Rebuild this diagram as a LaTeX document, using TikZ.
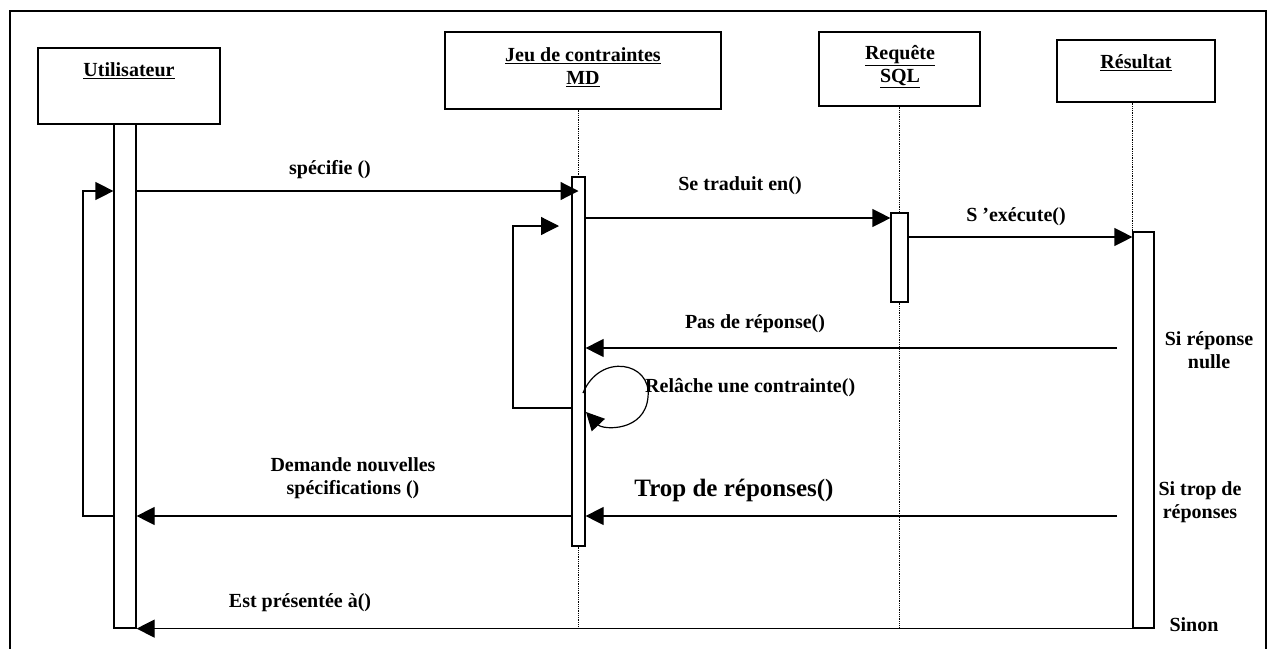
\documentclass[tikz,border=0pt]{standalone}
\usepackage{fontspec}
\setmainfont{Liberation Serif}
\usetikzlibrary{arrows.meta,calc}

\begin{document}
\begin{tikzpicture}[x=1pt, y=-1pt, font=\bfseries\fontsize{20}{23}\selectfont,
    objbox/.style={draw, line width=1.2pt, inner sep=0pt},
    actbar/.style={draw, fill=white, line width=1.2pt, inner sep=0pt, minimum width=#1},
    life/.style={densely dotted, line width=0.8pt},
    msg/.style={line width=1.2pt, -{Triangle[length=18pt,width=18pt]}},
    lbl/.style={inner sep=0pt, align=center}]
  \useasboundingbox (0,0) rectangle (1268,648);
  %frame
  \draw[line width=2.5pt] (10,660) -- (10,11) -- (1266,11) -- (1266,660);

  %objects
  \node[objbox, minimum width=182pt, minimum height=76pt] (usr) at (129,86) {};
  \node[objbox, minimum width=276pt, minimum height=77pt] (jeu) at (583,70.5) {};
  \node[objbox, minimum width=161pt, minimum height=74pt] (req) at (899.5,69) {};
  \node[objbox, minimum width=158pt, minimum height=62pt] (res) at (1136,71) {};
  \node[lbl] (usrT) at (129,71) {\underline{Utilisateur}};
  \node[lbl] (jeuT) at (583,67) {\underline{Jeu de contraintes}\\\underline{MD}};
  \node[lbl] (reqT) at (900,67) {\underline{Requête}\\\underline{SQL}};
  \node[lbl] (resT) at (1136,63) {\underline{Résultat}};

  %activation bars
  \node[actbar=22pt, minimum height=504pt] (ubar) at (125,376) {};
  \node[actbar=13pt, minimum height=369pt] (jbar) at (578.5,361.5) {};
  \node[actbar=17pt, minimum height=89pt] (rbar) at (899.5,257.5) {};
  \node[actbar=21pt, minimum height=396pt] (sbar) at (1143.5,430) {};

  %message levels
  \coordinate (ySpec) at (0,191);
  \coordinate (yTrad) at (0,218);
  \coordinate (yExec) at (0,237);
  \coordinate (yEnd) at (0,628);
  \coordinate (pasS) at (1117,348);
  \coordinate (tropS) at (1117,516);
  \coordinate (uloop) at (83,191);
  \coordinate (jloop) at (513,226);
  \coordinate (jtip) at (559,226);
  \coordinate (jback) at (0,408);
  \coordinate (cIn) at (583,393);
  \coordinate (cOut) at (586,412);

  %lifelines
  \draw[life] (jbar.north |- jeu.south) -- (jbar.north);
  \draw[life] (jbar.south) -- (jbar.south |- yEnd);
  \draw[life] (rbar.north |- req.south) -- (rbar.north);
  \draw[life] (rbar.south) -- (rbar.south |- yEnd);
  \draw[life] (sbar.north west |- res.south) -- (sbar.north west);

  %messages
  \draw[msg] (ubar.east |- ySpec) -- (jbar.center |- ySpec);
  \draw[msg] (jbar.east |- yTrad) -- (rbar.west |- yTrad);
  \draw[msg] (rbar.east |- yExec) -- (sbar.west |- yExec);
  \draw[msg] (pasS) -- (jbar.east |- pasS);
  \draw[msg] (tropS) -- (jbar.east |- tropS);
  \draw[msg] (jbar.west |- tropS) -- (ubar.east |- tropS);
  \draw[msg] (sbar.south east) -- (ubar.east |- sbar.south);
  \draw[msg] (ubar.west |- tropS) -| (uloop) -- (ubar.west |- ySpec);
  \draw[msg] (jbar.west |- jback) -| (jloop) -- (jtip);
  \draw[msg] (cIn) .. controls (600,352) and (652,362) .. (648,397)
                   .. controls (645,432) and (603,430) .. (cOut);

  %labels
  \node[lbl] (lSpec) at (330,170) {spécifie ()};
  \node[lbl] (lTrad) at (740,186) {Se traduit en()};
  \node[lbl] (lExec) at (1016,217) {S ’exécute()};
  \node[lbl] (lPas) at (755,324) {Pas de réponse()};
  \node[lbl, anchor=west] (lRel) at (645,388) {Relâche une contrainte()};
  \node[lbl, font=\bfseries\fontsize{25}{30}\selectfont] (lTrop) at (734,490) {Trop de réponses()};
  \node[lbl] (lDem) at (353,478) {Demande nouvelles\\spécifications ()};
  \node[lbl] (lEst) at (300,603) {Est présentée à()};
  \node[lbl] (cNul) at (1209,350) {Si réponse\\nulle};
  \node[lbl] (cTrop) at (1200,502) {Si trop de\\réponses};
  \node[lbl] (cSin) at (1194,625) {Sinon};
\end{tikzpicture}
\end{document}
